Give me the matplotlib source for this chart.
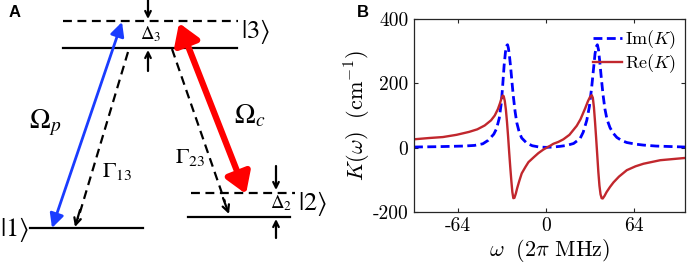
import matplotlib
matplotlib.use('Agg')
import matplotlib.pyplot as plt
from matplotlib.patches import ArrowStyle

plt.rcParams['axes.unicode_minus'] = False
plt.rcParams['mathtext.fontset'] = 'cm'

# ---- panel B data ----
omega_im = [-96, -80, -60, -52, -46, -42, -38, -36, -34, -32.5, -31.5, -30.5,
            -29.5, -28.5, -28, -27.4, -26.6, -25.7, -24.8, -23.8, -22.5,
            -21.3, -19.5, -17.7, -14, -10, -5, 0, 5, 10, 15, 20, 24.7, 27,
            29.6, 31.5, 33.2, 34.5, 35.6, 36.6, 37.3, 38.1, 39.1, 40.2, 41.4,
            42.8, 44.3, 46.5, 49, 51.4, 55, 58.7, 65, 70.8, 80, 87, 101]
im_k = [2, 3, 5, 7, 12, 23, 42, 59, 92, 140, 195, 255,
        298, 318, 320, 310, 285, 248, 205, 160, 112,
        78, 48, 30, 14, 6, 2, 1, 2, 4, 7, 13, 28, 48,
        85, 128, 189, 245, 292, 315, 320, 305, 265, 215, 165,
        120, 88, 62, 44, 32, 22, 16, 11, 8, 5, 4, 2]

omega_re = [-96, -85, -75, -65, -56, -50, -44.6, -40, -37.3, -35, -33.5, -32.3,
            -31.5, -30.8, -30, -29.2, -28.4, -27.6, -26.8, -26, -25.2, -24.5,
            -23.8, -23, -22, -21, -19.5, -17.7, -15, -12.8, -9, -5.6, -2, 0.5,
            3, 5.3, 9, 12.6, 17, 22.3, 25, 28.4, 30.5, 32, 33.2, 34, 34.8,
            35.6, 36.4, 37.2, 38, 38.8, 39.6, 40.4, 41.2, 42.5, 44, 46.5, 49,
            53, 58.7, 65, 70.8, 83, 101]
re_k = [26, 30, 33, 40, 49, 57, 69, 85, 100, 120, 138, 155,
        162, 160, 145, 118, 80, 35, -15, -62, -105, -138,
        -157, -156, -143, -126, -104, -80, -60, -45, -30, -17, -6, 0,
        6, 12, 18, 26, 40, 68, 88, 122, 145, 158, 163, 155, 125,
        80, 30, -22, -75, -118, -145, -157, -158, -150, -138, -122, -108,
        -90, -70, -58, -50, -39, -32]

x_ticks = [-64, 0, 64]
y_ticks = [-200, 0, 200, 400]

fig = plt.figure(figsize=(6.92, 2.78), dpi=100)

# ---- panel A: level diagram, drawn in pixel-like coordinates ----
axa = fig.add_axes([0, 0, 0.5, 1])
axa.set_xlim(0, 346)
axa.set_ylim(278, 0)
axa.axis('off')

lvl = dict(color='black', lw=1.6)
dash = dict(color='black', lw=1.6, linestyle=(0, (4, 2.5)))
# |3> levels
axa.plot([63, 238], [21, 21], **dash)
axa.plot([63, 237], [47.5, 47.5], **lvl)
# |1> level
axa.plot([30, 143], [228, 228], **lvl)
# |2> levels
axa.plot([191, 295], [193, 193], **dash)
axa.plot([188, 290], [217, 217], **lvl)


def small_arrow(x0, y0, x1, y1, ms=10):
    axa.annotate('', xy=(x1, y1), xytext=(x0, y0),
                 arrowprops=dict(arrowstyle='->', color='black', lw=1.6,
                                 mutation_scale=ms, shrinkA=0, shrinkB=0))


# detuning markers
small_arrow(148, 0, 148, 19)
small_arrow(148, 71, 148, 50)
small_arrow(276, 166, 276, 190)
small_arrow(276, 238, 276, 219)

# probe (blue) and coupling (red) transitions
axa.annotate('', xy=(122, 22), xytext=(52, 228),
             arrowprops=dict(arrowstyle=ArrowStyle('<|-|>', head_length=0.6, head_width=0.3),
                             color='#1a3cff', lw=2.0, mutation_scale=14,
                             shrinkA=0, shrinkB=0))
axa.annotate('', xy=(179, 23), xytext=(246, 194),
             arrowprops=dict(arrowstyle=ArrowStyle('<|-|>', head_length=0.55, head_width=0.35),
                             color='#ff0000', lw=4.5, mutation_scale=22,
                             shrinkA=0, shrinkB=0))

# decay channels (dashed)
axa.plot([128, 78], [52, 219], **dash)
small_arrow(80, 210, 75, 227, ms=12)
axa.plot([172, 225], [49, 202], **dash)
small_arrow(223, 198, 229, 214, ms=12)

tkw = dict(fontfamily='STIXGeneral', math_fontfamily='stix', va='center')
axa.text(255, 31, r'$|3\rangle$', fontsize=19, ha='center', **tkw)
axa.text(0, 230, r'$|1\rangle$', fontsize=19, ha='left', **tkw)
axa.text(312, 203, r'$|2\rangle$', fontsize=19, ha='center', **tkw)
axa.text(151, 34, r'$\Delta_3$', fontsize=13.5, ha='center', **tkw)
axa.text(281, 203, r'$\Delta_2$', fontsize=13.5, ha='center', **tkw)
axa.text(45, 123, r'$\Omega_p$', fontsize=20, ha='center', **tkw)
axa.text(250, 116, r'$\Omega_c$', fontsize=20, ha='center', **tkw)
axa.text(117, 172, r'$\Gamma_{13}$', fontsize=16, ha='center', **tkw)
axa.text(190, 157, r'$\Gamma_{23}$', fontsize=16, ha='center', **tkw)

fig.text(0.012, 0.955, 'A', fontsize=12, fontweight='bold',
         fontfamily='Liberation Sans', va='center', ha='left')
fig.text(0.516, 0.955, 'B', fontsize=12, fontweight='bold',
         fontfamily='Liberation Sans', va='center', ha='left')

# ---- panel B: susceptibility curves ----
ax = fig.add_axes([414 / 692, 66 / 278, 271 / 692, 193 / 278])
ax.plot(omega_im, im_k, color='#0000ff', lw=2.0, linestyle=(0, (3.2, 1.6)),
        label=r'$\mathrm{Im}(K)$')
ax.plot(omega_re, re_k, color='#c1272d', lw=1.7, label=r'$\mathrm{Re}(K)$')

ax.set_xlim(-96, 101)
ax.set_ylim(-200, 400)
ax.set_xticks(x_ticks)
ax.set_yticks(y_ticks)
ax.set_xticklabels([str(v) for v in x_ticks], fontfamily='cmr10', fontsize=14)
ax.set_yticklabels([str(v) for v in y_ticks], fontfamily='cmr10', fontsize=14)
ax.tick_params(direction='in', length=3, width=0.8, top=True, right=True,
               colors='#262626', labelcolor='black', pad=4)
for s in ax.spines.values():
    s.set_linewidth(0.9)
    s.set_color('#262626')

ax.set_xlabel(r'$\omega\ \ (2\pi\ \mathrm{MHz})$', fontsize=16, labelpad=1)
ax.set_ylabel(r'$K(\omega)\ \ (\mathrm{cm}^{-1})$', fontsize=16, labelpad=0)

ax.legend(loc='upper right', frameon=False, fontsize=13, handlelength=1.6,
          handletextpad=0.15, labelspacing=0.1, borderaxespad=0.0,
          borderpad=0.5)

fig.savefig('out.png', dpi=100)
